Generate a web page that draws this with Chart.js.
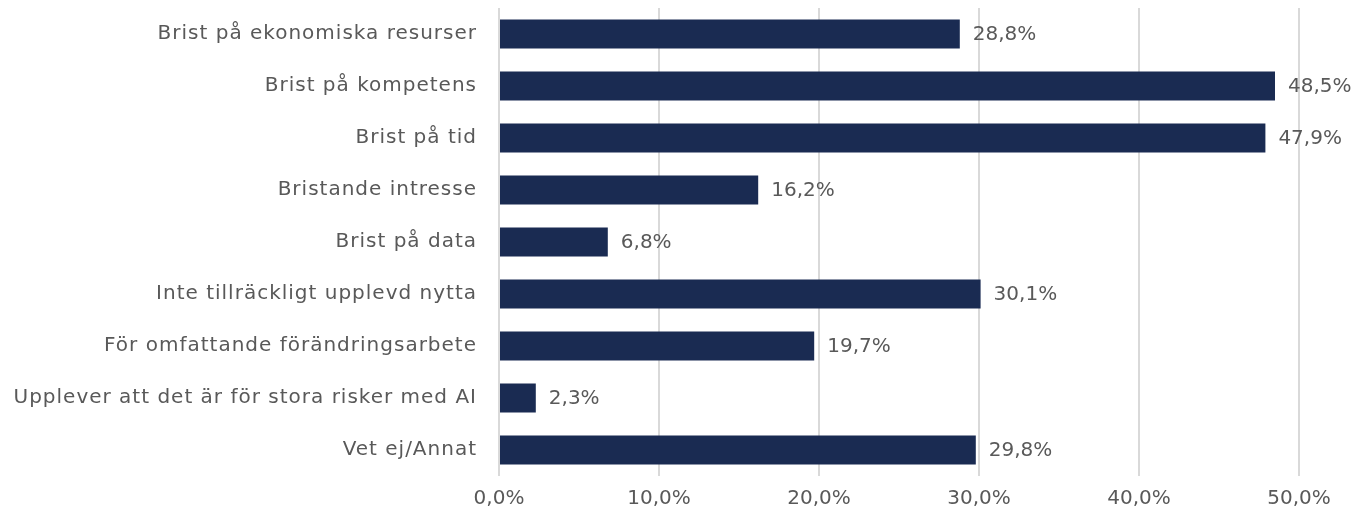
<!DOCTYPE html>
<html>
<head>
<meta charset="utf-8">
<script src="https://cdn.jsdelivr.net/npm/chart.js@4"></script>
<style>
  html, body { margin: 0; padding: 0; background: #fff; }
  #wrap { width: 1367px; height: 518px; }
</style>
</head>
<body>
<div id="wrap"><canvas id="barChart"></canvas></div>
<script>
const categories = [
    'Brist på ekonomiska resurser',
    'Brist på kompetens',
    'Brist på tid',
    'Bristande intresse',
    'Brist på data',
    'Inte tillräckligt upplevd nytta',
    'För omfattande förändringsarbete',
    'Upplever att det är för stora risker med AI',
    'Vet ej/Annat'
];
const values = [28.8, 48.5, 47.9, 16.2, 6.8, 30.1, 19.7, 2.3, 29.8];
const tickValues = [0, 10, 20, 30, 40, 50];

const fmt = v => v.toFixed(1).replace('.', ',') + '%';
const textColor = '#595959';
const fontFamily = '"DejaVu Sans", sans-serif';
const fontSize = 20;

// draw value labels right of each bar
const valueLabels = {
    id: 'valueLabels',
    afterDatasetsDraw(chart) {
        const c = chart.ctx;
        const meta = chart.getDatasetMeta(0);
        c.save();
        c.fillStyle = textColor;
        c.font = fontSize + 'px ' + fontFamily;
        c.textBaseline = 'middle';
        c.textAlign = 'left';
        meta.data.forEach((bar, i) => {
            c.fillText(fmt(values[i]), bar.x + 13, bar.y + 1);
        });
        c.restore();
    }
};

// wider category labels (the original font is a wide geometric face)
const spacedLabels = {
    id: 'spacedLabels',
    beforeDraw(chart) {
        const y = chart.scales.y;
        if (!y || y._spaced) return;
        const orig = y.drawLabels;
        y.drawLabels = function (area) {
            const c = this.ctx;
            c.save();
            c.letterSpacing = '1px';
            orig.call(this, area);
            c.restore();
        };
        y._spaced = true;
    }
};

const ctx = document.getElementById('barChart').getContext('2d');
new Chart(ctx, {
    type: 'bar',
    data: {
        labels: categories,
        datasets: [{
            data: values,
            backgroundColor: '#1a2b52',
            borderWidth: 0,
            barPercentage: 0.56,
            categoryPercentage: 1
        }]
    },
    options: {
        indexAxis: 'y',
        responsive: true,
        maintainAspectRatio: false,
        animation: false,
        layout: { padding: { top: 8, right: 68, left: 0, bottom: 0 } },
        plugins: {
            legend: { display: false },
            tooltip: { enabled: false }
        },
        scales: {
            x: {
                min: 0,
                max: 50,
                afterBuildTicks: s => { s.ticks = tickValues.map(v => ({ value: v })); },
                afterFit: s => { s.height = 42; },
                ticks: {
                    color: textColor,
                    font: { size: fontSize, family: fontFamily },
                    padding: 11,
                    callback: v => fmt(v)
                },
                grid: { color: '#d9d9d9', lineWidth: 2, drawTicks: false },
                border: { display: false }
            },
            y: {
                afterFit: s => { s.width = 499; s.paddingTop = 0; s.paddingBottom = 0; },
                ticks: {
                    color: textColor,
                    font: { size: fontSize, family: fontFamily },
                    padding: 14
                },
                grid: { display: false },
                border: { display: false }
            }
        }
    },
    plugins: [valueLabels, spacedLabels]
});
</script>
</body>
</html>
